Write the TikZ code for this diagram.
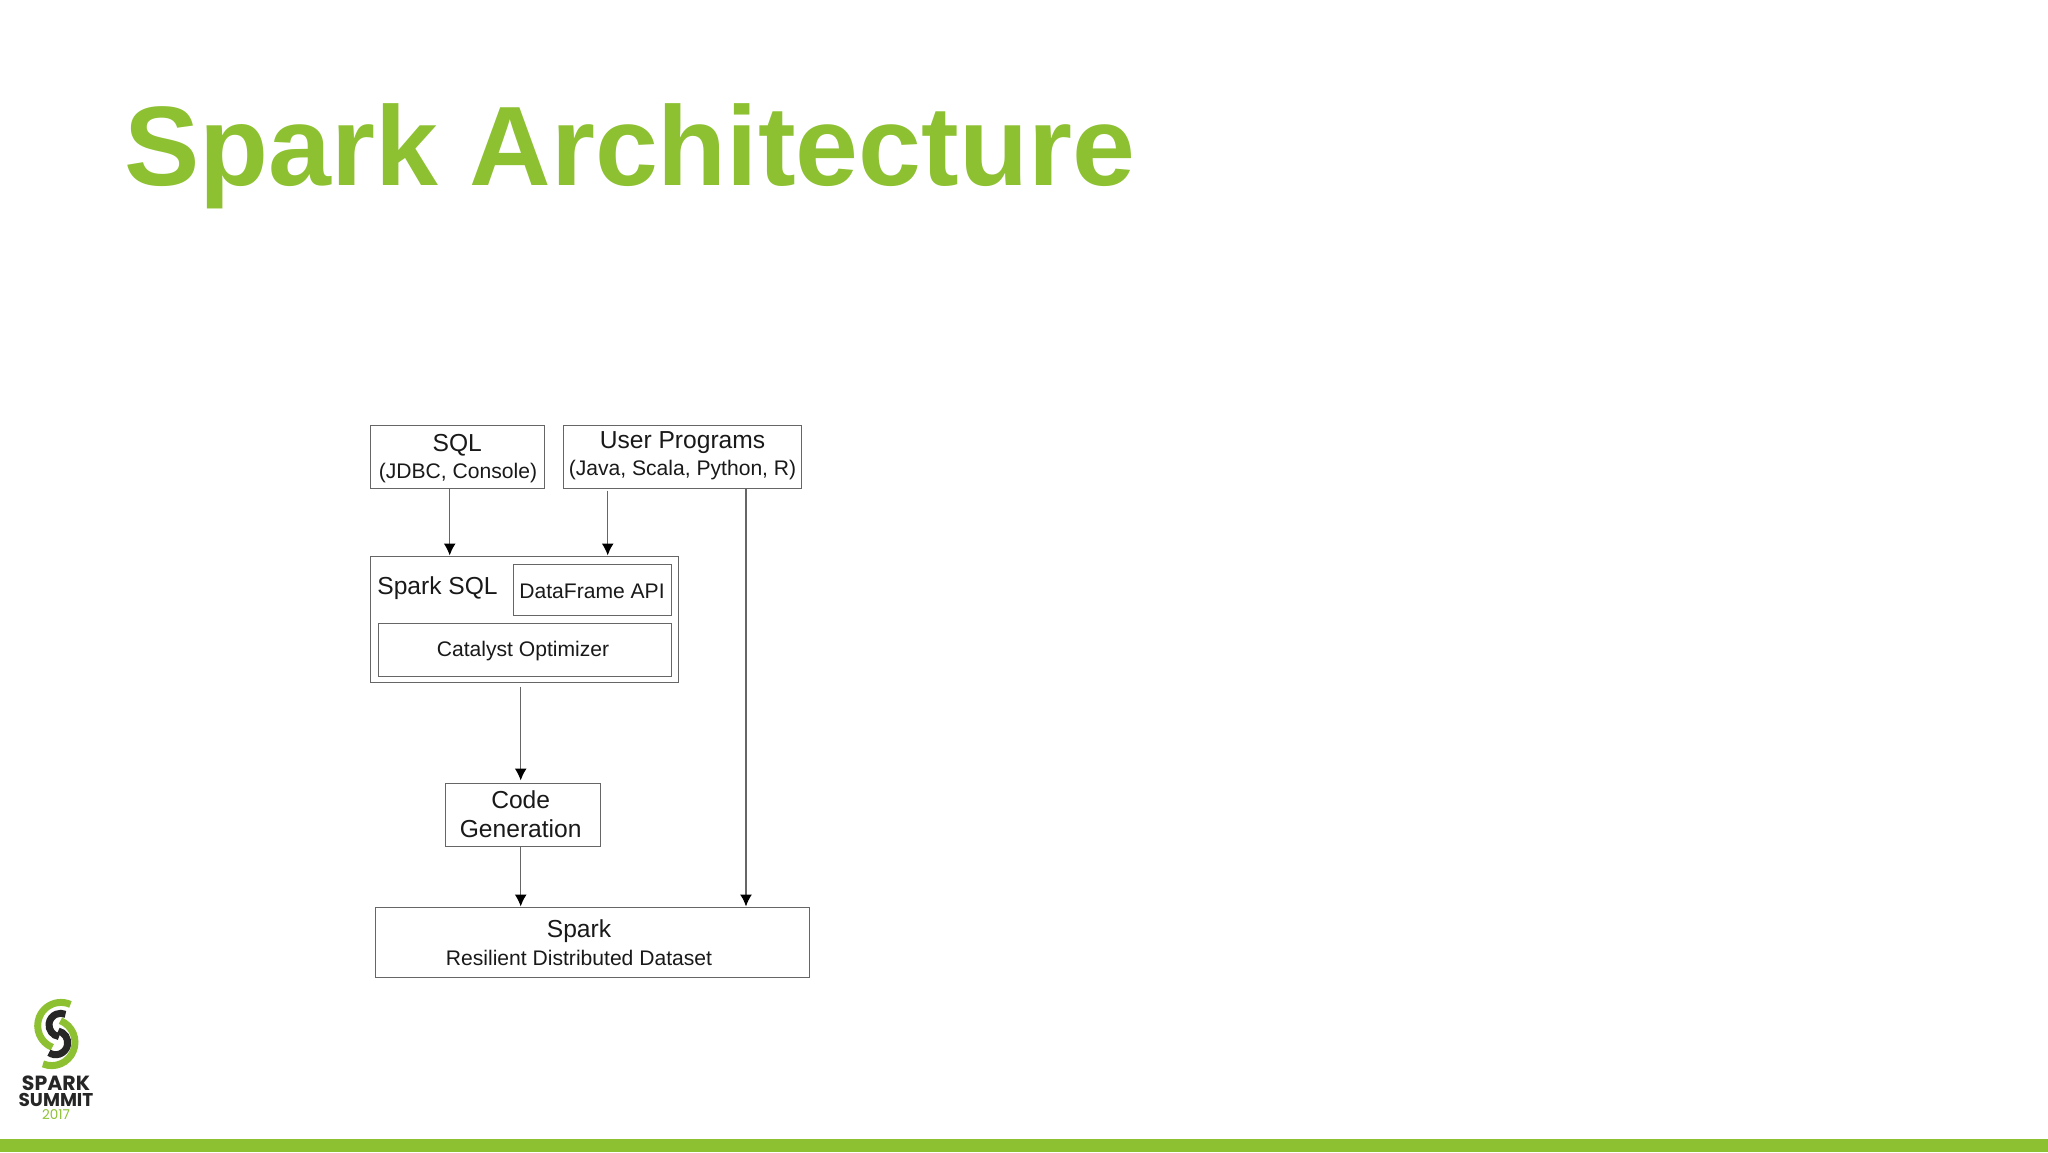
\documentclass[tikz,border=0pt]{standalone}
\usepackage{fontspec}
\setmainfont{Liberation Sans}
\newfontfamily\logofont{Poppins}
\usetikzlibrary{arrows.meta,calc}
\definecolor{sparkgreen}{HTML}{8DC132}
\definecolor{boxline}{HTML}{666666}
\definecolor{arrowline}{HTML}{666666}
\def\logoarc[#1](#2)(#3:#4:#5){\draw[#1] ($(#2)+(#3:#5)$) arc (#3:#4:#5);}
\tikzset{
	box/.style={draw=boxline, line width=1pt, inner sep=0pt, align=center, text=black!90},
	inbox/.style={inner sep=0pt, align=center, text=black!90},
	flow/.style={draw=arrowline, line width=1.5pt, -{Latex[length=12pt,width=12pt,black]}},
	bigtext/.style={font=\fontsize{24.6}{29.5}\selectfont},
	smalltext/.style={font=\fontsize{21.1}{26}\selectfont}
}
\begin{document}
\begin{tikzpicture}[x=1pt,y=-1pt]
	\useasboundingbox (0,0) rectangle (2048,1152);
	%%%%% HEADER AND FOOTER %%%%%
	\fill[white] (0,0) rectangle (2048,1152);
	\fill[sparkgreen] (0,1139) rectangle (2048,1152);
	\node[anchor=base west, inner sep=0pt, text=sparkgreen] (title) at (124,185)
		{\fontsize{113}{113}\selectfont\bfseries Spark Architecture};

	%%%%% BOXES %%%%%
	\node[box, minimum width=174pt, minimum height=63pt] (sql) at (457.3,456.5) {};
	\node[inbox, bigtext] (sqlname) at (457.3,445) {SQL};
	\node[inbox, smalltext] (sqlnote) at (458,473) {(JDBC, Console)};

	\node[box, minimum width=238pt, minimum height=63pt] (user) at (682,456.5) {};
	\node[inbox, bigtext] (username) at (682.5,443) {User Programs};
	\node[inbox, smalltext] (usernote) at (682.5,470) {(Java, Scala, Python, R)};

	\node[box, minimum width=308pt, minimum height=126pt] (sparksql) at (524.5,619) {};
	\node[inbox, bigtext] (sparksqlname) at (437.5,588) {Spark SQL};
	\node[box, minimum width=158pt, minimum height=51pt] (dataframe) at (592,589.5) {};
	\node[inbox, smalltext] (dataframename) at (592,591) {DataFrame API};
	\node[box, minimum width=293pt, minimum height=53pt] (catalyst) at (524.5,649.5) {};
	\node[inbox, smalltext] (catalystname) at (523,651) {Catalyst Optimizer};

	\node[box, minimum width=155pt, minimum height=63pt] (codegen) at (522.5,814.5) {};
	\node[inbox, bigtext] (codegenname) at (520.7,814) {Code\\Generation};

	\node[box, minimum width=434pt, minimum height=70pt] (spark) at (592,942) {};
	\node[inbox, bigtext] (sparkname) at (579,931.5) {Spark};
	\node[inbox, smalltext] (sparknote) at (579,958) {Resilient Distributed Dataset};

	%%%%% ARROWS %%%%%
	\coordinate (sqlx) at (449.7,0);
	\coordinate (userx) at (607.7,0);
	\coordinate (codex) at (520.7,0);
	\coordinate (directx) at (746,0);
	\draw[flow] (sql.south -| sqlx) -- (sparksql.north -| sqlx);
	\draw[flow, shorten <=2pt] (user.south -| userx) -- (sparksql.north -| userx);
	\draw[flow, shorten <=4pt, shorten >=2pt] (sparksql.south -| codex) -- (codegen.north -| codex);
	\draw[flow] (codegen.south -| codex) -- (spark.north -| codex);
	\draw[flow] (user.south -| directx) -- (spark.north -| directx);

	%%%%% LOGO %%%%%
	\logoarc[sparkgreen, line width=7pt](61,1025.7)(112:294:23.3);
	\logoarc[sparkgreen, line width=7pt](51.7,1042.3)(-68:112:23.3);
	\logoarc[black!85, line width=7pt](60.7,1025)(98:294:11.7);
	\logoarc[black!85, line width=7pt](55.7,1042.7)(-78:124:12);
	\node[anchor=base, inner sep=0pt, text=black!85] (logospark) at (56,1090)
		{\logofont\fontsize{20.5}{21}\selectfont\bfseries SPARK};
	\node[anchor=base, inner sep=0pt, text=black!85] (logosummit) at (56,1106)
		{\logofont\fontsize{18.5}{19}\selectfont\bfseries SUMMIT};
	\node[anchor=base, inner sep=0pt, text=sparkgreen] (logoyear) at (56,1119)
		{\logofont\fontsize{13.5}{14}\selectfont 2017};
\end{tikzpicture}
\end{document}
